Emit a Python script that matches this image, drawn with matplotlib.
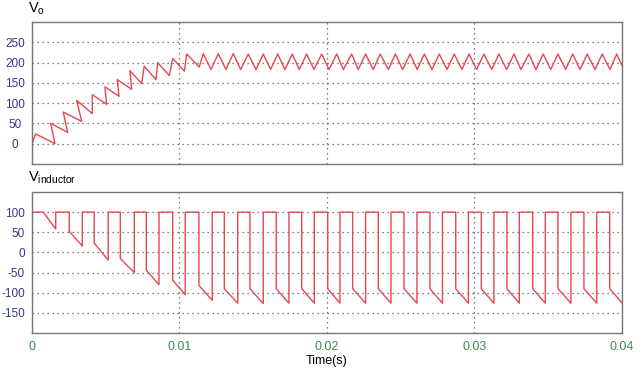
import numpy as np
import matplotlib.pyplot as plt

plt.rcParams['font.family'] = ['Liberation Sans', 'DejaVu Sans']
plt.rcParams['axes.unicode_minus'] = False

# output voltage: vertices (time in ms, volts)
vo_t = [0.00, 0.25, 1.56, 1.27, 2.42, 2.12, 3.37, 3.03, 4.09, 4.09, 5.06, 4.95,
        5.90, 5.78, 6.76, 6.64, 7.44, 7.61, 8.41, 8.52, 9.31, 9.54, 10.33, 10.49,
        11.34, 11.61, 12.14, 12.63, 13.15, 13.65, 14.15, 14.66, 15.19, 15.68,
        16.18, 16.66, 17.15, 17.65, 18.12, 18.62, 19.12, 19.64, 20.14, 20.66,
        21.11, 21.67, 22.12, 22.62, 23.14, 23.61, 24.16, 24.64, 25.13, 25.63,
        26.12, 26.60, 27.12, 27.61, 28.14, 28.63, 29.15, 29.63, 30.15, 30.64,
        31.17, 31.66, 32.18, 32.68, 33.15, 33.69, 34.17, 34.66, 35.17, 35.66,
        36.18, 36.66, 37.15, 37.65, 38.17, 38.66, 39.19, 39.64, 40.00]
vo_v = [0, 24, 0, 50, 28, 78, 55, 107, 74, 121, 97, 140,
        117, 158, 134, 180, 148, 191, 158, 200, 168, 210, 179, 221,
        189, 222, 183, 222, 183, 222, 183, 221, 183, 221,
        183, 221, 183, 221, 183, 221, 183, 221, 183, 221,
        183, 221, 183, 221, 183, 221, 183, 221, 183, 221,
        183, 221, 183, 221, 183, 221, 183, 221, 183, 221,
        183, 221, 183, 221, 183, 221, 183, 221, 183, 221,
        183, 221, 183, 221, 183, 221, 183, 221, 193]

# inductor voltage: switch-off / switch-on instants (ms) and ramp values (V)
sw_off = [0.77, 2.53, 4.22, 5.99, 7.75, 9.54, 11.32, 13.04, 14.78, 16.56, 18.29,
          20.05, 21.74, 23.48, 25.22, 26.98, 28.73, 30.46, 32.20, 33.95, 35.66,
          37.42, 39.17]
sw_on = [1.61, 3.41, 5.17, 6.94, 8.61, 10.39, 12.22, 13.95, 15.68, 17.42, 19.14,
         20.88, 22.62, 24.34, 26.10, 27.83, 29.59, 31.32, 33.04, 34.80, 36.54,
         38.29, 40.00]
ramp_start = [100, 52, 23, -15, -44, -69, -82, -90, -90, -90, -90,
              -90, -90, -90, -90, -90, -90, -90, -90, -90, -90, -90, -90]
ramp_end = [58, 16, -19, -50, -80, -105, -119, -126, -127, -126, -126,
            -126, -126, -126, -126, -126, -126, -126, -126, -126, -126, -126, -125]
v_on = 100

vl_t = [0.0]
vl_v = [v_on]
for k in range(len(sw_off)):
    vl_t += [sw_off[k], sw_off[k], sw_on[k]]
    vl_v += [v_on, ramp_start[k], ramp_end[k]]
    if k < len(sw_off) - 1:
        vl_t.append(sw_on[k])
        vl_v.append(v_on)

vo_t = np.array(vo_t) / 1000
vl_t = np.array(vl_t) / 1000

xticks = [0, 0.01, 0.02, 0.03, 0.04]
xlabels = ['0', '0.01', '0.02', '0.03', '0.04']

red = '#e8464e'
blue = '#333a8c'
green = '#3d8a4e'
grid = '#555555'

fig = plt.figure(figsize=(6.42, 3.72), dpi=100)
ax1 = fig.add_axes([0.0498, 0.5591, 0.919, 0.3818])
ax2 = fig.add_axes([0.0498, 0.1048, 0.919, 0.3791])

ax1.plot(vo_t, vo_v, color=red, lw=1)
ax2.plot(vl_t, vl_v, color=red, lw=1)

ax1.set_ylim(-50, 300)
ax1.set_yticks([0, 50, 100, 150, 200, 250])
ax2.set_ylim(-200, 150)
ax2.set_yticks([-150, -100, -50, 0, 50, 100])

for ax in (ax1, ax2):
    ax.set_xlim(0, 0.04)
    ax.set_xticks(xticks)
    ax.grid(True, linestyle=(0, (1, 3)), color=grid, lw=0.9)
    ax.tick_params(length=0, labelsize=8.5, labelcolor=blue)
    for s in ax.spines.values():
        s.set_color('#777777')
        s.set_linewidth(1)

ax1.set_xticklabels([])
for lab in ax1.get_yticklabels():
    lab.set_horizontalalignment('center')
ax1.tick_params(axis='y', pad=12)
ax2.tick_params(axis='y', pad=5)
ax2.set_xticklabels(xlabels)
ax2.tick_params(axis='x', labelcolor=green, pad=6, labelsize=9)
ax2.set_xlabel('Time(s)', fontsize=9, labelpad=1)

fig.text(0.044, 0.955, 'V$_\\mathregular{o}$', fontsize=10.5, va='bottom')
fig.text(0.044, 0.50, 'V$_\\mathregular{inductor}$', fontsize=10.5, va='bottom')

fig.savefig('out.png', dpi=100)
